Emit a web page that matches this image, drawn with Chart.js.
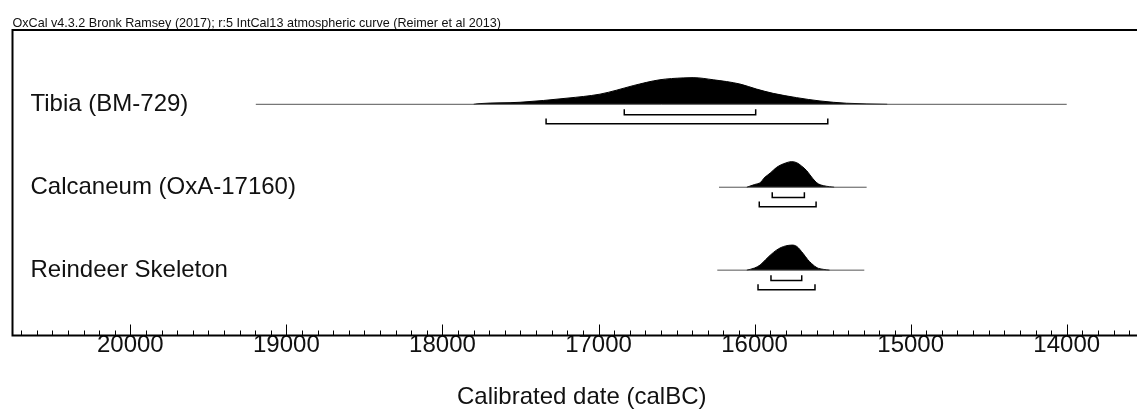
<!DOCTYPE html>
<html><head><meta charset="utf-8">
<script src="https://cdn.jsdelivr.net/npm/chart.js@4/dist/chart.umd.min.js"></script>
<style>html,body{margin:0;padding:0;background:#fff;overflow:hidden;}#wrap{width:1160px;height:409px;}</style>
</head><body><div id="wrap"><canvas id="c" width="1160" height="409"></canvas></div>
<script>
const chartTitle = 'OxCal v4.3.2 Bronk Ramsey (2017); r:5 IntCal13 atmospheric curve (Reimer et al 2013)';
const axisTitle = 'Calibrated date (calBC)';
const categories = ['Tibia (BM-729)', 'Calcaneum (OxA-17160)', 'Reindeer Skeleton'];
const majorTicks = [20000, 19000, 18000, 17000, 16000, 15000, 14000];
const minorStep = 100;
const axisMin = 13460, axisMax = 20755;

// probability distributions (calBC years, relative density)
const tibiaYears   = [17800, 17759, 17503, 17202, 16991, 16884, 16778, 16607, 16458, 16394, 16265, 16094, 15987, 15881, 15731, 15581, 15410, 15150];
const tibiaDensity = [0, 0.027, 0.076, 0.23, 0.38, 0.53, 0.70, 0.92, 0.99, 1.0, 0.92, 0.76, 0.57, 0.41, 0.25, 0.125, 0.04, 0];
const calcYears    = [16050, 16000, 15960, 15940, 15900, 15860, 15830, 15800, 15765, 15730, 15700, 15666, 15645, 15613, 15590, 15560, 15520, 15490];
const calcDensity  = [0, 0.1, 0.19, 0.34, 0.53, 0.74, 0.84, 0.91, 0.96, 0.92, 0.80, 0.62, 0.46, 0.23, 0.12, 0.06, 0.02, 0];
const reinYears    = [16050, 16000, 15965, 15930, 15900, 15860, 15830, 15800, 15760, 15730, 15690, 15660, 15635, 15600, 15560, 15520];
const reinDensity  = [0, 0.08, 0.19, 0.39, 0.56, 0.75, 0.85, 0.91, 0.94, 0.89, 0.63, 0.40, 0.25, 0.09, 0.03, 0];

// extent of plotted baseline
const rangeLineStart = [19196, 16228, 16239];
const rangeLineEnd   = [14000, 15282, 15297];
// 68.2% and 95.4% ranges
const range68From = [16835, 15887, 15895];
const range68To   = [15993, 15681, 15698];
const range95From = [17336, 15970, 15978];
const range95To   = [15531, 15606, 15613];

const FONT = '"Liberation Sans", Arial, Helvetica, sans-serif';
const K = 0.3216, OFF68 = 0.125, OFF95 = 0.236, TICK = 0.065;
const dens = [[tibiaYears, tibiaDensity], [calcYears, calcDensity], [reinYears, reinDensity]];

const datasets = [];
categories.forEach((c, i) => {
  datasets.push({
    label: c + ' range',
    data: [{x: rangeLineStart[i], y: i}, {x: rangeLineEnd[i], y: i}],
    borderColor: '#555', borderWidth: 1, pointRadius: 0, fill: false
  });
  const [yrs, d] = dens[i];
  datasets.push({
    label: c,
    data: yrs.map((yr, j) => ({x: yr, y: i - d[j] * K})),
    borderColor: '#000', backgroundColor: '#000', borderWidth: 1, pointRadius: 0,
    cubicInterpolationMode: 'monotone', fill: {value: i}
  });
  [[range68From, range68To, OFF68], [range95From, range95To, OFF95]].forEach(([f, t, off]) => {
    datasets.push({
      label: c + ' bracket',
      data: [{x: f[i], y: i + off - TICK}, {x: f[i], y: i + off}, {x: t[i], y: i + off}, {x: t[i], y: i + off - TICK}],
      borderColor: '#000', borderWidth: 1.5, pointRadius: 0, fill: false, tension: 0
    });
  });
});

const frameAndTicks = {
  id: 'frameAndTicks',
  afterDraw(chart) {
    const {ctx, chartArea: a, scales: {x}} = chart;
    ctx.save();
    ctx.strokeStyle = '#000';
    ctx.lineWidth = 1;
    x.ticks.forEach(t => {
      const px = Math.round(x.getPixelForValue(t.value)) + 0.5;
      const len = majorTicks.includes(t.value) ? 11 : 5;
      ctx.beginPath(); ctx.moveTo(px, a.bottom); ctx.lineTo(px, a.bottom - len); ctx.stroke();
    });
    ctx.lineWidth = 2;
    ctx.beginPath();
    ctx.moveTo(a.right + 20, a.top); ctx.lineTo(a.left, a.top); ctx.lineTo(a.left, a.bottom); ctx.lineTo(a.right + 20, a.bottom);
    ctx.stroke();
    ctx.restore();
  }
};

new Chart(document.getElementById('c'), {
  type: 'line',
  data: {datasets},
  options: {
    responsive: false, animation: false, devicePixelRatio: 1,
    layout: {padding: {left: 12.5, right: 9, top: 0, bottom: 0}},
    plugins: {
      legend: {display: false}, tooltip: {enabled: false},
      title: {display: true, text: chartTitle, align: 'start', color: '#111',
        font: {family: FONT, size: 12.6, weight: 'normal', lineHeight: 1}, padding: {top: 17.4, bottom: 0}}
    },
    scales: {
      x: {
        type: 'linear', reverse: true, min: axisMin, max: axisMax, position: 'bottom',
        grid: {display: false, drawTicks: false}, border: {display: false},
        afterBuildTicks: s => {
          const t = [];
          for (let v = Math.ceil(axisMin / minorStep) * minorStep; v <= axisMax; v += minorStep) t.push({value: v});
          s.ticks = t;
        },
        ticks: {autoSkip: false, maxRotation: 0, minRotation: 0, padding: -2.5, color: '#111',
          font: {family: FONT, size: 24, lineHeight: 1},
          callback: v => majorTicks.includes(v) ? String(v) : ''},
        title: {display: true, text: axisTitle, color: '#111', font: {family: FONT, size: 24, lineHeight: 1}, padding: {top: 30.5, bottom: 0}}
      },
      y: {
        type: 'linear', reverse: true, min: -0.896, max: 2.788, position: 'left',
        grid: {display: false, drawTicks: false}, border: {display: false},
        afterBuildTicks: s => { s.ticks = categories.map((c, i) => ({value: i})); },
        afterFit: s => { s.width = 0; },
        ticks: {mirror: true, padding: 18, color: '#111', font: {family: FONT, size: 24, lineHeight: 1},
          callback: v => categories[v]}
      }
    }
  },
  plugins: [frameAndTicks]
});
</script></body></html>
